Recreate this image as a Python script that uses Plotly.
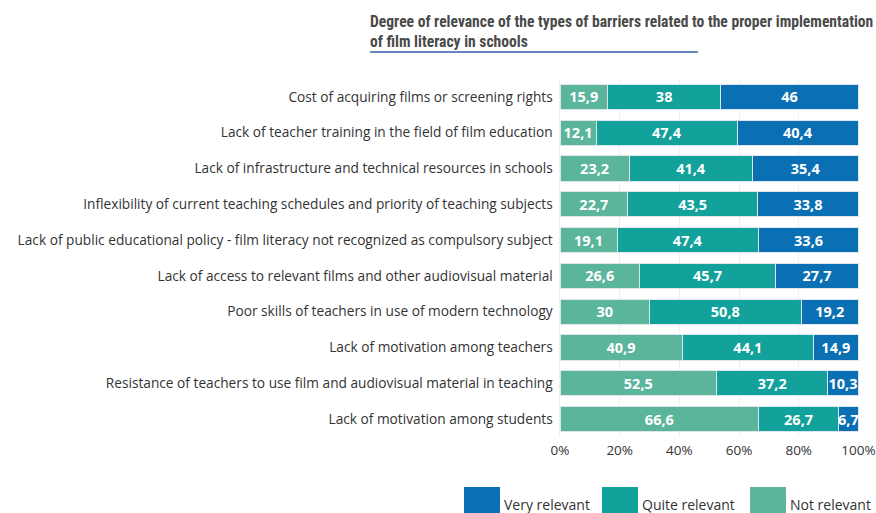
import plotly.graph_objects as go

categories = [
    "Cost of acquiring films or screening rights",
    "Lack of teacher training in the field of film education",
    "Lack of infrastructure and technical resources in schools",
    "Inflexibility of current teaching schedules and priority of teaching subjects",
    "Lack of public educational policy - film literacy not recognized as compulsory subject",
    "Lack of access to relevant films and other audiovisual material",
    "Poor skills of teachers in use of modern technology",
    "Lack of motivation among teachers",
    "Resistance of teachers to use film and audiovisual material in teaching",
    "Lack of motivation among students",
]
not_relevant = [15.9, 12.1, 23.2, 22.7, 19.1, 26.6, 30, 40.9, 52.5, 66.6]
quite_relevant = [38, 47.4, 41.4, 43.5, 47.4, 45.7, 50.8, 44.1, 37.2, 26.7]
very_relevant = [46, 40.4, 35.4, 33.8, 33.6, 27.7, 19.2, 14.9, 10.3, 6.7]
tick_vals = [0, 20, 40, 60, 80, 100]
tick_text = ["0%", "20%", "40%", "60%", "80%", "100%"]

series = [
    ("Not relevant", not_relevant, "#5bb59b"),
    ("Quite relevant", quite_relevant, "#12a19b"),
    ("Very relevant", very_relevant, "#0b6fb3"),
]

FONT = "Open Sans, Noto Sans, sans-serif"
NARROW = "Liberation Sans Narrow, Roboto Condensed, Roboto, sans-serif"

L, R, T, B = 560, 17, 79, 76
W, H = 876, 513
PW, PH = W - L - R, H - T - B


def px_x(px):
    return (px - L) / PW


def px_y(py):
    return 1 - (py - T) / PH


fig = go.Figure()
for name, vals, color in series:
    fig.add_trace(go.Bar(
        y=categories, x=vals, name=name, orientation="h",
        marker=dict(color=color, line=dict(color="#dde6ee", width=1)),
        text=[str(v).replace(".", ",") for v in vals],
        textposition="inside", insidetextanchor="middle",
        textangle=0, constraintext="none",
        textfont=dict(color="white", size=14.5, family=FONT, weight="bold"),
        showlegend=False, cliponaxis=False,
    ))

fig.update_layout(
    barmode="stack",
    bargap=0.3,
    width=W, height=H,
    margin=dict(l=L, r=R, t=T, b=B, autoexpand=False),
    plot_bgcolor="white", paper_bgcolor="white",
    font=dict(family=FONT, color="#333333", size=13),
    xaxis=dict(range=[0, 100.2], tickvals=tick_vals, ticktext=tick_text,
               showgrid=True, gridcolor="#f0f0f0", zeroline=False, automargin=False,
               ticklabeloverflow="allow", ticklabelstandoff=3,
               tickfont=dict(size=13.5, color="#333333"), ticklen=0, fixedrange=True),
    yaxis=dict(autorange="reversed", showgrid=False, ticksuffix=" ", automargin=False,
               tickfont=dict(size=13.7, color="#333333"), ticklen=0,
               showline=True, linecolor="#f0f0f0"),
)

# title
fig.add_annotation(
    xref="paper", yref="paper", x=px_x(368), y=px_y(11),
    xanchor="left", yanchor="top", align="left", showarrow=False,
    text="<b>Degree of relevance of the types of barriers related to the proper implementation<br>of film literacy in schools</b>",
    font=dict(size=15.6, color="#4a4a4a", family=NARROW),
)
fig.add_shape(type="line", xref="paper", yref="paper",
              x0=px_x(370), x1=px_x(698), y0=px_y(52), y1=px_y(52),
              line=dict(color="#2f5fa8", width=1.5))

# custom legend
legend_items = [("Very relevant", "#0b6fb3", 464), ("Quite relevant", "#12a19b", 602), ("Not relevant", "#5bb59b", 750)]
for label, color, px in legend_items:
    fig.add_shape(type="rect", xref="paper", yref="paper", x0=px_x(px), x1=px_x(px + 36),
                  y0=px_y(513), y1=px_y(487), fillcolor=color, line=dict(width=0))
    fig.add_annotation(xref="paper", yref="paper", x=px_x(px + 38),
                       y=px_y(505), xanchor="left", yanchor="middle",
                       showarrow=False, text=label,
                       font=dict(size=14, color="#333333", family=FONT))

fig.write_html("out.html", config={"displayModeBar": False},
               post_script="document.body.style.margin='0';document.body.style.overflow='hidden';")
